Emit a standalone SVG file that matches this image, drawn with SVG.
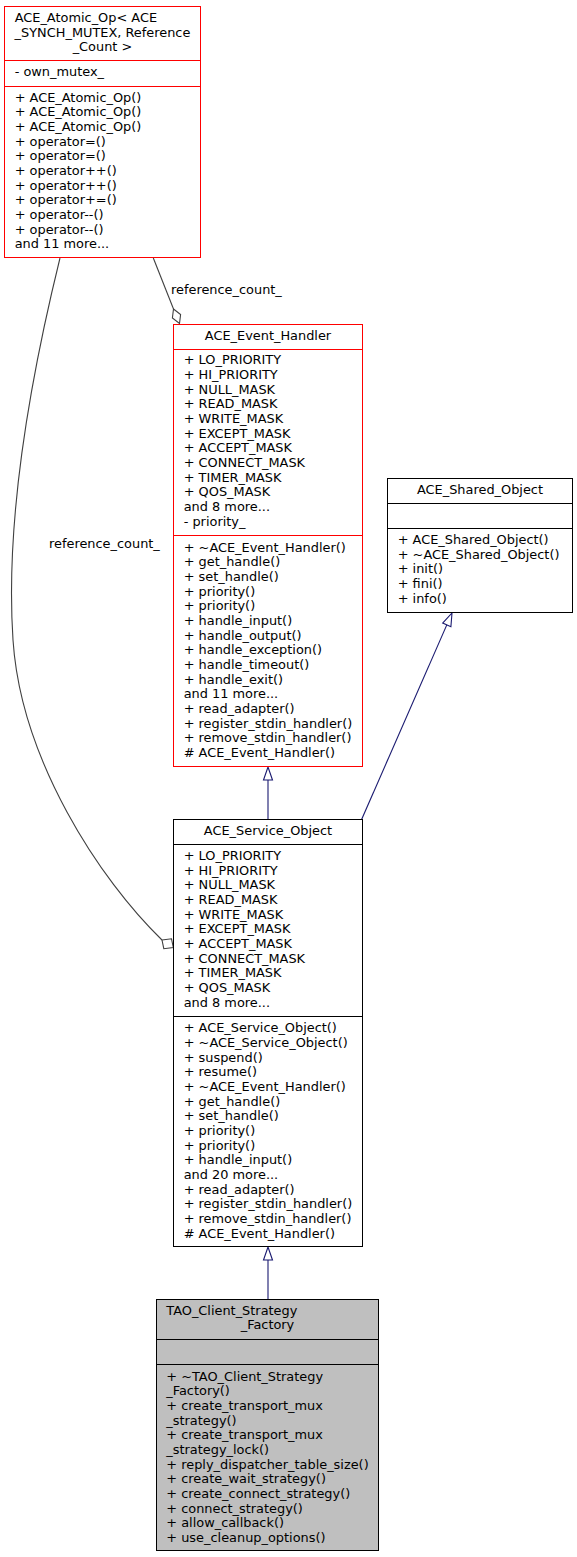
<svg xmlns="http://www.w3.org/2000/svg" width="577" height="1557" viewBox="0 0 577 1557">
<style>
text{font-family:"DejaVu Sans",sans-serif;font-size:12.9px;fill:#000}
.mid{text-anchor:middle}
.red rect,.red line{stroke:#ff0000;fill:#fff;stroke-width:1}
.blk rect,.blk line{stroke:#000;fill:#fff;stroke-width:1}
.gray rect{fill:#bfbfbf}
.agg{stroke:#404040;fill:none;stroke-width:1.1}
.inh{stroke:#191970;fill:none;stroke-width:1.1}
</style>
<rect width="577" height="1557" fill="#fff"/>
<g id="connectors">
<path class="agg" d="M153.3,258 L173.5,309"/>
<polygon class="agg" points="173.5,309 180.6,314.6 179.5,323.5 172.4,317.9" fill="#fff"/>
<text x="171" y="293.5">reference_count_</text>
<path class="agg" d="M60,258 C30,380 5,520 13,640 C21,760 100,880 162,940"/>
<polygon class="agg" points="162,940 171.5,938.8 173.3,947.5 163.8,948.7" fill="#fff"/>
<text x="49" y="548.3">reference_count_</text>
<line class="inh" x1="268" y1="819.5" x2="268" y2="780"/>
<polygon class="inh" points="268,767 263.5,780 272.5,780" fill="#fff"/>
<line class="inh" x1="361.5" y1="819.7" x2="446.8" y2="624.9"/>
<polygon class="inh" points="452,613 450.9,626.7 442.7,623.1" fill="#fff"/>
<line class="inh" x1="268" y1="1299.5" x2="268" y2="1260"/>
<polygon class="inh" points="268,1247 263.5,1260 272.5,1260" fill="#fff"/>
</g>
<g id="node_atomic_op" class="red">
<rect x="4.5" y="6.5" width="196" height="251"/>
<line x1="4.5" y1="60.5" x2="200.5" y2="60.5"/>
<line x1="4.5" y1="86.5" x2="200.5" y2="86.5"/>
<text x="14.7" y="22">ACE_Atomic_Op&lt; ACE</text>
<text class="mid" x="102.5" y="36.7">_SYNCH_MUTEX, Reference</text>
<text class="mid" x="102.5" y="51.3">_Count &gt;</text>
<text x="14.7" y="76">- own_mutex_</text>
<text x="14.7" y="101.7">+ ACE_Atomic_Op()<tspan x="14.7" dy="14.67">+ ACE_Atomic_Op()</tspan><tspan x="14.7" dy="14.67">+ ACE_Atomic_Op()</tspan><tspan x="14.7" dy="14.67">+ operator=()</tspan><tspan x="14.7" dy="14.67">+ operator=()</tspan><tspan x="14.7" dy="14.67">+ operator++()</tspan><tspan x="14.7" dy="14.67">+ operator++()</tspan><tspan x="14.7" dy="14.67">+ operator+=()</tspan><tspan x="14.7" dy="14.67">+ operator--()</tspan><tspan x="14.7" dy="14.67">+ operator--()</tspan><tspan x="14.7" dy="14.67">and 11 more...</tspan></text>
</g>
<g id="node_event_handler" class="red">
<rect x="173.5" y="324.5" width="189" height="442"/>
<line x1="173.5" y1="349.5" x2="362.5" y2="349.5"/>
<line x1="173.5" y1="535.5" x2="362.5" y2="535.5"/>
<text class="mid" x="268" y="340">ACE_Event_Handler</text>
<text x="183.7" y="364.3">+ LO_PRIORITY<tspan x="183.7" dy="14.67">+ HI_PRIORITY</tspan><tspan x="183.7" dy="14.67">+ NULL_MASK</tspan><tspan x="183.7" dy="14.67">+ READ_MASK</tspan><tspan x="183.7" dy="14.67">+ WRITE_MASK</tspan><tspan x="183.7" dy="14.67">+ EXCEPT_MASK</tspan><tspan x="183.7" dy="14.67">+ ACCEPT_MASK</tspan><tspan x="183.7" dy="14.67">+ CONNECT_MASK</tspan><tspan x="183.7" dy="14.67">+ TIMER_MASK</tspan><tspan x="183.7" dy="14.67">+ QOS_MASK</tspan><tspan x="183.7" dy="14.67">and 8 more...</tspan><tspan x="183.7" dy="14.67">- priority_</tspan></text>
<text x="183.7" y="551.7">+ ~ACE_Event_Handler()<tspan x="183.7" dy="14.67">+ get_handle()</tspan><tspan x="183.7" dy="14.67">+ set_handle()</tspan><tspan x="183.7" dy="14.67">+ priority()</tspan><tspan x="183.7" dy="14.67">+ priority()</tspan><tspan x="183.7" dy="14.67">+ handle_input()</tspan><tspan x="183.7" dy="14.67">+ handle_output()</tspan><tspan x="183.7" dy="14.67">+ handle_exception()</tspan><tspan x="183.7" dy="14.67">+ handle_timeout()</tspan><tspan x="183.7" dy="14.67">+ handle_exit()</tspan><tspan x="183.7" dy="14.67">and 11 more...</tspan><tspan x="183.7" dy="14.67">+ read_adapter()</tspan><tspan x="183.7" dy="14.67">+ register_stdin_handler()</tspan><tspan x="183.7" dy="14.67">+ remove_stdin_handler()</tspan><tspan x="183.7" dy="14.67"># ACE_Event_Handler()</tspan></text>
</g>
<g id="node_shared_object" class="blk">
<rect x="387.5" y="478.5" width="185" height="134"/>
<line x1="387.5" y1="503.5" x2="572.5" y2="503.5"/>
<line x1="387.5" y1="528.5" x2="572.5" y2="528.5"/>
<text class="mid" x="480" y="494">ACE_Shared_Object</text>
<text x="397.7" y="544">+ ACE_Shared_Object()<tspan x="397.7" dy="14.67">+ ~ACE_Shared_Object()</tspan><tspan x="397.7" dy="14.67">+ init()</tspan><tspan x="397.7" dy="14.67">+ fini()</tspan><tspan x="397.7" dy="14.67">+ info()</tspan></text>
</g>
<g id="node_service_object" class="blk">
<rect x="173.5" y="819.5" width="189" height="427"/>
<line x1="173.5" y1="844.5" x2="362.5" y2="844.5"/>
<line x1="173.5" y1="1016.5" x2="362.5" y2="1016.5"/>
<text class="mid" x="268" y="835">ACE_Service_Object</text>
<text x="183.7" y="860">+ LO_PRIORITY<tspan x="183.7" dy="14.67">+ HI_PRIORITY</tspan><tspan x="183.7" dy="14.67">+ NULL_MASK</tspan><tspan x="183.7" dy="14.67">+ READ_MASK</tspan><tspan x="183.7" dy="14.67">+ WRITE_MASK</tspan><tspan x="183.7" dy="14.67">+ EXCEPT_MASK</tspan><tspan x="183.7" dy="14.67">+ ACCEPT_MASK</tspan><tspan x="183.7" dy="14.67">+ CONNECT_MASK</tspan><tspan x="183.7" dy="14.67">+ TIMER_MASK</tspan><tspan x="183.7" dy="14.67">+ QOS_MASK</tspan><tspan x="183.7" dy="14.67">and 8 more...</tspan></text>
<text x="183.7" y="1032.3">+ ACE_Service_Object()<tspan x="183.7" dy="14.67">+ ~ACE_Service_Object()</tspan><tspan x="183.7" dy="14.67">+ suspend()</tspan><tspan x="183.7" dy="14.67">+ resume()</tspan><tspan x="183.7" dy="14.67">+ ~ACE_Event_Handler()</tspan><tspan x="183.7" dy="14.67">+ get_handle()</tspan><tspan x="183.7" dy="14.67">+ set_handle()</tspan><tspan x="183.7" dy="14.67">+ priority()</tspan><tspan x="183.7" dy="14.67">+ priority()</tspan><tspan x="183.7" dy="14.67">+ handle_input()</tspan><tspan x="183.7" dy="14.67">and 20 more...</tspan><tspan x="183.7" dy="14.67">+ read_adapter()</tspan><tspan x="183.7" dy="14.67">+ register_stdin_handler()</tspan><tspan x="183.7" dy="14.67">+ remove_stdin_handler()</tspan><tspan x="183.7" dy="14.67"># ACE_Event_Handler()</tspan></text>
</g>
<g id="node_tao_client_strategy_factory" class="blk gray">
<rect x="156.5" y="1299.5" width="222" height="251"/>
<line x1="156.5" y1="1339.5" x2="378.5" y2="1339.5"/>
<line x1="156.5" y1="1364.5" x2="378.5" y2="1364.5"/>
<text x="166.3" y="1315">TAO_Client_Strategy</text>
<text class="mid" x="267.5" y="1329.3">_Factory</text>
<text x="166.3" y="1380.7">+ ~TAO_Client_Strategy<tspan x="166.3" dy="14.67">_Factory()</tspan><tspan x="166.3" dy="14.67">+ create_transport_mux</tspan><tspan x="166.3" dy="14.67">_strategy()</tspan><tspan x="166.3" dy="14.67">+ create_transport_mux</tspan><tspan x="166.3" dy="14.67">_strategy_lock()</tspan><tspan x="166.3" dy="14.67">+ reply_dispatcher_table_size()</tspan><tspan x="166.3" dy="14.67">+ create_wait_strategy()</tspan><tspan x="166.3" dy="14.67">+ create_connect_strategy()</tspan><tspan x="166.3" dy="14.67">+ connect_strategy()</tspan><tspan x="166.3" dy="14.67">+ allow_callback()</tspan><tspan x="166.3" dy="14.67">+ use_cleanup_options()</tspan></text>
</g>
</svg>
